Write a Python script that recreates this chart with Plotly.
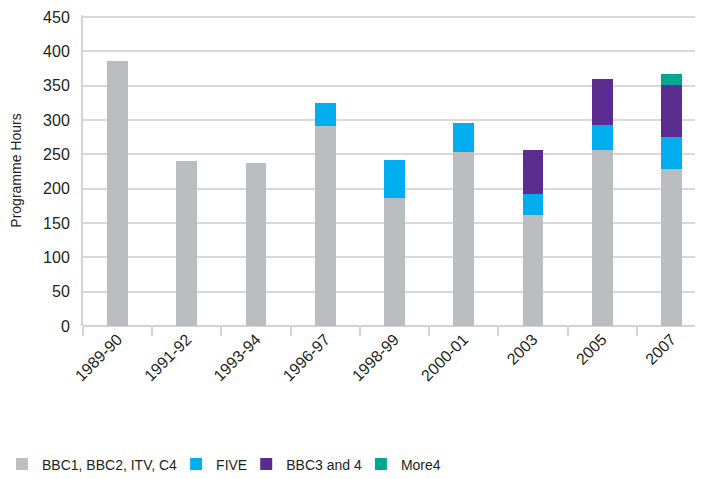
"""Programme hours by channel group, stacked bars."""

import plotly.graph_objects as go

years = ["1989-90", "1991-92", "1993-94", "1996-97", "1998-99",
         "2000-01", "2003", "2005", "2007"]
main_channels = [386, 241, 237, 292, 187, 254, 161, 256, 228]
five = [0, 0, 0, 33, 55, 41, 31, 37, 48]
bbc3_and_4 = [0, 0, 0, 0, 0, 0, 64, 67, 75]
more4 = [0, 0, 0, 0, 0, 0, 0, 0, 16]
y_ticks = [0, 50, 100, 150, 200, 250, 300, 350, 400, 450]

series = [
    ("BBC1, BBC2, ITV, C4", main_channels, "#bcbdc0"),
    ("FIVE", five, "#00aeef"),
    ("BBC3 and 4", bbc3_and_4, "#5b2d90"),
    ("More4", more4, "#00a88f"),
]

fig = go.Figure()
for name, values, colour in series:
    fig.add_trace(
        go.Bar(
            x=years,
            y=values,
            name=name,
            marker=dict(color=colour, line=dict(width=0)),
            width=0.3,
        )
    )

font = "Liberation Sans Narrow, Liberation Sans, Arial, sans-serif"

# the page body adds an 8px offset, so margins are trimmed to suit
fig.update_layout(
    barmode="stack",
    width=703,
    height=479,
    margin=dict(l=75, r=5, t=7, b=161),
    plot_bgcolor="white",
    paper_bgcolor="white",
    font=dict(family=font, size=16, color="#231f20"),
    showlegend=True,
    legend=dict(
        orientation="h",
        xref="container",
        yref="container",
        x=0,
        y=0.047,
        xanchor="left",
        yanchor="middle",
        indentation=-6,
        font=dict(size=14),
        traceorder="normal",
    ),
    xaxis=dict(
        type="category",
        automargin=False,
        tickangle=-45,
        showgrid=False,
        ticks="outside",
        tickson="boundaries",
        ticklen=9,
        tickwidth=2,
        tickcolor="#d4d4d6",
        showline=False,
        range=[-0.5, 8.5],
    ),
    yaxis=dict(
        automargin=False,
        title=dict(text="Programme Hours", font=dict(size=14), standoff=28),
        # a little headroom so the 450 gridline is not clipped at the edge
        range=[0, 453],
        tickmode="array",
        tickvals=y_ticks,
        ticklabeloverflow="allow",
        showgrid=True,
        gridcolor="#d9d9db",
        gridwidth=2,
        showline=True,
        linecolor="#d4d4d6",
        linewidth=2,
        zeroline=True,
        zerolinecolor="#d4d4d6",
        zerolinewidth=2,
        ticks="",
        ticklabelstandoff=8,
    ),
)

fig.write_html("out.html")
